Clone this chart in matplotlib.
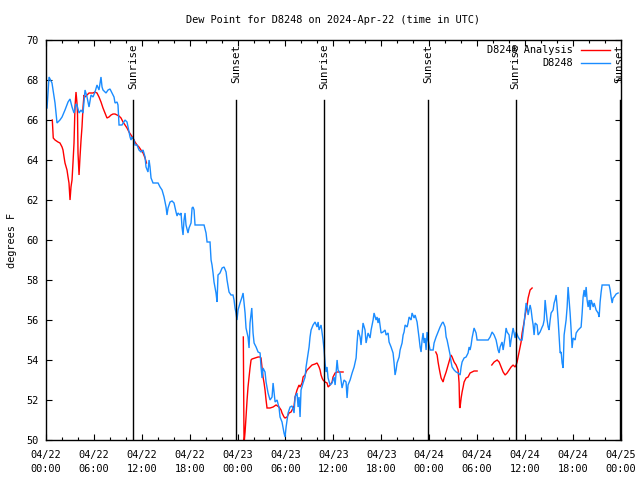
import matplotlib
matplotlib.use("Agg")
import matplotlib.pyplot as plt
from matplotlib.ticker import FixedLocator, MultipleLocator
from matplotlib.lines import Line2D

title = "Dew Point for D8248 on 2024-Apr-22 (time in UTC)"
ylabel = "degrees F"
series_names = ["D8248 Analysis", "D8248"]

# hours since 2024-04-22 00:00 UTC
obs_hours = [0.13, 0.38, 0.75, 1.13, 1.38, 1.75, 2.01, 2.38, 2.76, 3.01, 3.26, 3.51, 3.76, 3.88, 4.14, 4.39, 4.64, 4.89,
             5.14, 5.39, 5.64, 5.89, 6.14, 6.39, 6.64, 6.89, 7.02, 7.14, 7.52, 7.77, 8.02, 8.27, 8.52, 8.65, 8.90, 9.02,
             9.15, 9.52, 9.90, 10.15, 10.53, 10.65, 10.78, 11.03, 11.15, 11.40, 11.65, 11.90, 12.16, 12.41, 12.53, 12.78,
             12.91, 13.03, 13.16, 13.41, 14.04, 14.29, 14.54, 14.79, 15.04, 15.16, 15.29, 15.54, 15.79, 16.04, 16.29,
             16.42, 16.54, 16.79, 16.92, 17.04, 17.17, 17.29, 17.42, 17.54, 17.79, 17.92, 18.17, 18.30, 18.42, 18.55,
             18.67, 19.80, 20.05, 20.18, 20.55, 20.68, 20.80, 20.93, 21.05, 21.30, 21.43, 21.55, 21.80, 22.06, 22.31,
             22.56, 22.68, 22.93, 23.18, 23.43, 23.56, 23.68, 23.81, 23.93, 24.06, 24.31, 24.56, 24.69, 24.81, 24.94,
             25.06, 25.31, 25.44, 25.56, 25.78, 25.94, 26.07, 26.32, 26.57, 26.82, 26.94, 27.07, 27.19, 27.44, 27.57,
             27.82, 28.07, 28.32, 28.45, 28.70, 28.95, 29.20, 29.32, 29.57, 29.82, 29.95, 30.08, 30.33, 30.58, 30.83,
             31.08, 31.20, 31.45, 31.58, 31.70, 31.83, 31.95, 32.21, 32.46, 32.58, 32.71, 32.96, 33.08, 33.21, 33.46,
             33.71, 33.96, 34.09, 34.21, 34.46, 34.59, 34.71, 34.84, 34.96, 35.09, 35.21, 35.34, 35.59, 35.84, 36.09,
             36.22, 36.47, 36.59, 36.84, 37.09, 37.34, 37.59, 37.72, 37.84, 38.10, 38.35, 38.60, 38.85, 38.97, 39.10,
             39.35, 39.47, 39.60, 39.72, 39.97, 40.10, 40.35, 40.60, 40.73, 40.98, 41.10, 41.35, 41.48, 41.60, 41.73,
             41.98, 42.23, 42.48, 42.61, 42.86, 42.98, 43.23, 43.48, 43.61, 43.73, 43.86, 43.98, 44.24, 44.36, 44.61,
             44.74, 44.86, 44.99, 45.24, 45.36, 45.49, 45.74, 45.86, 46.12, 46.24, 46.49, 46.62, 46.74, 46.87, 46.99,
             47.12, 47.24, 47.37, 47.49, 47.62, 47.74, 47.87, 48.12, 48.50, 48.62, 48.87, 49.12, 49.37, 49.62, 49.75,
             50.00, 50.13, 50.25, 50.38, 50.63, 50.75, 50.88, 51.13, 51.38, 51.63, 51.88, 52.01, 52.13, 52.38, 52.63,
             52.88, 53.01, 53.13, 53.26, 53.38, 53.51, 53.63, 53.88, 54.01, 55.39, 55.64, 55.89, 56.14, 56.39, 56.52,
             56.64, 56.77, 56.89, 57.14, 57.27, 57.52, 57.64, 57.77, 58.02, 58.15, 58.27, 58.52, 58.65, 58.77, 58.90,
             59.15, 59.40, 59.65, 59.77, 59.90, 60.03, 60.15, 60.28, 60.40, 60.53, 60.65, 60.78, 60.90, 61.03, 61.15,
             61.28, 61.53, 61.65, 61.90, 62.16, 62.28, 62.41, 62.53, 62.66, 62.78, 62.91, 63.03, 63.16, 63.28, 63.53,
             63.66, 63.78, 63.91, 64.04, 64.16, 64.29, 64.41, 64.54, 64.66, 64.79, 64.85, 64.91, 65.04, 65.16, 65.29,
             65.41, 65.54, 65.66, 65.79, 65.91, 66.04, 66.29, 66.42, 66.67, 66.92, 67.04, 67.17, 67.29, 67.42, 67.54,
             67.67, 67.79, 67.92, 68.05, 68.17, 68.30, 68.42, 68.55, 68.67, 68.92, 69.17, 69.30, 69.42, 69.55, 69.67,
             70.30, 70.55, 70.68, 70.80, 70.93, 71.05, 71.18, 71.43, 71.68]
obs_values = [66.6, 68.15, 67.85, 66.85, 65.85, 66.0, 66.15, 66.5, 66.9, 67.05, 66.65, 66.35, 66.8, 66.75, 66.35, 66.5,
              66.35, 67.5, 67.15, 66.65, 67.25, 67.15, 67.4, 67.75, 67.5, 68.15, 67.65, 67.5, 67.35, 67.5, 67.55, 67.35,
              67.15, 66.85, 66.9, 66.75, 65.75, 65.75, 66.0, 65.9, 65.15, 65.0, 65.15, 65.0, 64.75, 64.75, 64.5, 64.4,
              64.5, 64.15, 63.65, 63.4, 64.0, 63.65, 63.1, 62.85, 62.85, 62.65, 62.5, 62.15, 61.65, 61.25, 61.6, 61.9,
              61.95, 61.85, 61.4, 61.2, 61.35, 61.25, 61.35, 60.65, 60.25, 61.0, 61.35, 60.75, 60.35, 60.6, 60.85, 61.6,
              61.65, 61.5, 60.75, 60.75, 60.35, 59.9, 59.9, 59.0, 58.75, 58.35, 57.9, 57.35, 56.9, 58.25, 58.35, 58.6,
              58.65, 58.4, 58.0, 57.4, 57.25, 57.25, 57.0, 56.6, 56.35, 56.0, 56.5, 56.85, 57.15, 57.35, 56.85, 56.35,
              55.6, 55.15, 54.6, 55.85, 56.6, 55.35, 54.85, 54.65, 54.4, 54.35, 53.65, 53.1, 53.6, 53.4, 52.9, 52.35,
              52.0, 52.15, 52.85, 51.9, 52.0, 51.6, 51.15, 50.9, 50.35, 50.15, 50.65, 51.35, 51.65, 51.7, 51.35, 52.15,
              52.35, 51.65, 52.15, 51.15, 52.5, 52.85, 53.15, 53.65, 54.0, 54.65, 55.15, 55.5, 55.75, 55.9, 55.65, 55.9,
              55.5, 55.75, 55.35, 55.0, 54.5, 53.85, 53.4, 53.65, 53.1, 52.75, 52.85, 53.15, 52.75, 54.0, 53.5, 53.35,
              52.6, 53.0, 52.9, 52.1, 52.75, 53.0, 53.35, 53.65, 54.1, 54.85, 55.5, 55.15, 54.75, 55.35, 55.85, 55.5,
              54.85, 55.35, 55.1, 55.5, 56.0, 56.35, 56.0, 56.15, 55.85, 56.1, 55.35, 55.4, 55.5, 55.25, 55.35, 54.9,
              54.65, 54.35, 53.85, 53.25, 53.5, 53.85, 54.15, 54.5, 54.85, 55.25, 55.4, 55.75, 55.65, 55.85, 56.15,
              56.0, 56.35, 56.1, 56.25, 55.9, 55.5, 55.1, 54.65, 54.4, 55.0, 55.35, 54.85, 55.1, 54.5, 55.4, 55.0, 54.5,
              54.5, 54.85, 55.15, 55.4, 55.65, 55.85, 55.9, 55.65, 55.15, 55.0, 54.75, 54.25, 53.9, 53.65, 53.5, 53.4,
              53.35, 53.25, 53.65, 53.9, 54.1, 54.15, 54.35, 54.65, 54.5, 54.75, 55.1, 55.35, 55.6, 55.35, 55.0, 55.0,
              55.15, 55.4, 55.25, 55.0, 54.75, 54.5, 54.35, 54.65, 54.9, 54.5, 55.15, 55.6, 55.4, 55.25, 54.65, 55.0,
              55.6, 55.35, 55.1, 55.4, 55.15, 55.0, 55.0, 55.4, 55.85, 56.35, 56.85, 56.65, 56.25, 56.5, 56.75, 56.5,
              56.1, 55.75, 55.25, 55.85, 55.75, 55.25, 55.4, 55.65, 55.75, 56.0, 57.0, 56.5, 56.0, 55.65, 55.5, 56.0,
              56.35, 56.5, 56.85, 57.0, 57.25, 56.65, 56.0, 55.15, 54.35, 54.4, 53.85, 53.6, 54.4, 55.25, 55.65, 56.0,
              56.65, 57.65, 57.0, 56.35, 55.5, 54.6, 55.1, 55.0, 55.35, 55.5, 55.6, 55.65, 56.35, 57.15, 57.5, 57.15,
              57.65, 57.0, 56.65, 57.0, 56.5, 57.0, 56.85, 56.65, 56.85, 56.5, 56.35, 56.15, 56.9, 57.4, 57.75, 57.75,
              57.75, 57.5, 57.15, 56.85, 57.1, 57.15, 57.3, 57.35]

# analysis series: separate segments (gaps between them)
ana_hours_1 = [0.79, 0.91, 1.13, 1.50, 1.75, 2.01, 2.13, 2.26, 2.38, 2.63, 2.76, 2.88, 3.01, 3.13, 3.26, 3.38, 3.51,
               3.63, 3.76, 3.88, 3.95, 4.01, 4.14, 4.26, 4.39, 4.51, 4.64, 4.76, 4.89, 5.14, 5.39, 5.64, 5.89, 6.14,
               6.39, 6.64, 6.89, 7.14, 7.39, 7.64, 7.89, 8.15, 8.40, 8.65, 8.90, 9.15, 9.40, 9.65, 9.90, 10.15, 10.40,
               10.65, 10.90, 11.15, 11.40, 11.65, 11.90, 12.16, 12.41, 12.59]
ana_values_1 = [66.0, 65.1, 65.0, 64.9, 64.85, 64.65, 64.5, 64.15, 63.85, 63.5, 63.15, 62.85, 62.0, 62.65, 63.0, 63.85,
                64.85, 66.65, 67.4, 66.85, 66.25, 64.35, 63.25, 64.15, 65.0, 65.65, 66.65, 67.25, 67.15, 67.25, 67.35,
                67.35, 67.35, 67.4, 67.35, 67.15, 66.9, 66.6, 66.35, 66.1, 66.15, 66.25, 66.3, 66.3, 66.25, 66.2, 66.1,
                65.9, 65.75, 65.6, 65.4, 65.25, 65.1, 64.9, 64.75, 64.65, 64.5, 64.35, 64.1, 63.85]
ana_hours_2 = [24.72, 24.81, 24.94, 25.06, 25.19, 25.31, 25.44, 25.56, 25.69, 25.81, 26.19, 26.57, 26.82, 26.94, 27.07,
               27.19, 27.32, 27.44, 27.57, 27.69, 28.07, 28.45, 28.82, 29.20, 29.45, 29.57, 29.82, 29.95, 30.20, 30.45,
               30.70, 30.95, 31.08, 31.20, 31.45, 31.70, 31.83, 32.08, 32.21, 32.46, 32.58, 32.71, 32.96, 33.08, 33.33,
               33.71, 33.96, 34.09, 34.21, 34.34, 34.46, 34.59, 34.71, 34.96, 35.21, 35.34, 35.59, 35.84, 35.96, 36.22,
               36.47, 36.84, 37.22]
ana_values_2 = [55.15, 49.8, 50.4, 51.15, 52.0, 52.65, 53.15, 53.6, 54.0, 54.05, 54.1, 54.15, 54.15, 54.1, 53.6, 53.15,
                52.85, 52.5, 52.0, 51.6, 51.6, 51.65, 51.75, 51.65, 51.5, 51.35, 51.15, 51.1, 51.15, 51.35, 51.4, 51.6,
                51.7, 52.15, 52.5, 52.75, 52.65, 52.85, 53.15, 53.25, 53.4, 53.5, 53.6, 53.65, 53.75, 53.8, 53.85, 53.75,
                53.65, 53.5, 53.25, 53.1, 53.0, 52.9, 52.85, 52.65, 52.75, 52.9, 53.15, 53.35, 53.4, 53.4, 53.4]
ana_hours_3 = [48.83, 49.00, 49.12, 49.25, 49.37, 49.50, 49.75, 49.87, 50.13, 50.38, 50.63, 50.75, 50.88, 51.13, 51.38,
               51.63, 51.75, 51.82, 51.88, 52.01, 52.13, 52.26, 52.38, 52.63, 52.88, 53.13, 53.38, 53.63, 54.01]
ana_values_3 = [54.4, 54.25, 53.9, 53.6, 53.35, 53.1, 52.9, 53.1, 53.4, 53.75, 54.1, 54.25, 54.15, 53.9, 53.75, 53.5,
                52.85, 51.6, 51.65, 52.1, 52.4, 52.65, 52.9, 53.1, 53.15, 53.35, 53.4, 53.45, 53.45]
ana_hours_4 = [55.85, 56.14, 56.52, 56.77, 57.02, 57.27, 57.52, 57.77, 58.02, 58.27, 58.52, 58.77, 58.90, 59.02, 59.27,
               59.52, 59.65, 59.90, 60.03, 60.28, 60.40, 60.65, 60.90]
ana_values_4 = [53.75, 53.9, 54.0, 53.9, 53.65, 53.4, 53.25, 53.35, 53.5, 53.65, 53.75, 53.65, 53.75, 53.9, 54.4, 54.9,
                55.35, 55.9, 56.25, 56.75, 57.1, 57.5, 57.6]

sunrise_hours = [10.93, 34.88, 58.85]
sunset_hours = [23.85, 47.88, 71.87]

xtick_hours = [0, 6, 12, 18, 24, 30, 36, 42, 48, 54, 60, 66, 72]
xtick_labels = ["04/22\n00:00", "04/22\n06:00", "04/22\n12:00", "04/22\n18:00",
                "04/23\n00:00", "04/23\n06:00", "04/23\n12:00", "04/23\n18:00",
                "04/24\n00:00", "04/24\n06:00", "04/24\n12:00", "04/24\n18:00", "04/25\n00:00"]
yticks = [50, 52, 54, 56, 58, 60, 62, 64, 66, 68, 70]

RED = "#ff0000"
BLUE = "#1a8cff"
FONT = "DejaVu Sans Mono"
FS = 7.4

plt.rcParams["font.family"] = FONT
fig = plt.figure(figsize=(6.4, 4.8), dpi=100)
ax = fig.add_axes([46 / 640, 1 - 440 / 480, (620.7 - 46) / 640, 400 / 480])

for hs, vs in [(ana_hours_1, ana_values_1), (ana_hours_2, ana_values_2),
               (ana_hours_3, ana_values_3), (ana_hours_4, ana_values_4)]:
    ax.plot(hs, vs, color=RED, lw=1.0, solid_joinstyle="miter")
ax.plot(obs_hours, obs_values, color=BLUE, lw=1.0, solid_joinstyle="miter")

ax.set_xlim(0, 72)
ax.set_ylim(50, 70)

line_top = 67.0
for h in sunrise_hours:
    ax.plot([h, h], [50, line_top], color="black", lw=1.0)
    ax.text(h, 69.8, "Sunrise", rotation=90, ha="center", va="top", fontsize=FS + 0.4)
for h in sunset_hours:
    ax.plot([h, h], [50, line_top], color="black", lw=1.0)
    ax.text(h, 69.8, "Sunset", rotation=90, ha="center", va="top", fontsize=FS + 0.4)

ax.xaxis.set_major_locator(FixedLocator(xtick_hours))
ax.set_xticklabels(xtick_labels, fontsize=FS, linespacing=1.5)
ax.xaxis.set_minor_locator(MultipleLocator(2))
ax.set_yticks(yticks)
ax.set_yticklabels([str(v) for v in yticks], fontsize=FS)
ax.tick_params(which="major", direction="in", length=4.5, width=0.8, top=True, right=True)
ax.tick_params(axis="x", which="major", pad=7)
ax.tick_params(axis="y", which="major", pad=5)
ax.tick_params(which="minor", direction="in", length=2.5, width=0.8, top=True, right=True)
for s in ax.spines.values():
    s.set_linewidth(1.0)

ax.set_ylabel(ylabel, fontsize=FS, labelpad=7)
ax.set_title(title, fontsize=FS, pad=12)

# legend (gnuplot style: right-aligned text, sample line to the right)
legend_colors = [RED, BLUE]
for i, (name, col) in enumerate(zip(series_names, legend_colors)):
    ypx = 50 + 13 * i
    yfrac = 1 - (ypx - 40) / 400
    ax.text((573 - 46) / 574.7, yfrac, name, transform=ax.transAxes, ha="right", va="center", fontsize=FS)
    ax.add_line(Line2D([(581 - 46) / 574.7, (610 - 46) / 574.7], [yfrac, yfrac], transform=ax.transAxes,
                       color=col, lw=1.0))

fig.savefig("out.png", dpi=100)
